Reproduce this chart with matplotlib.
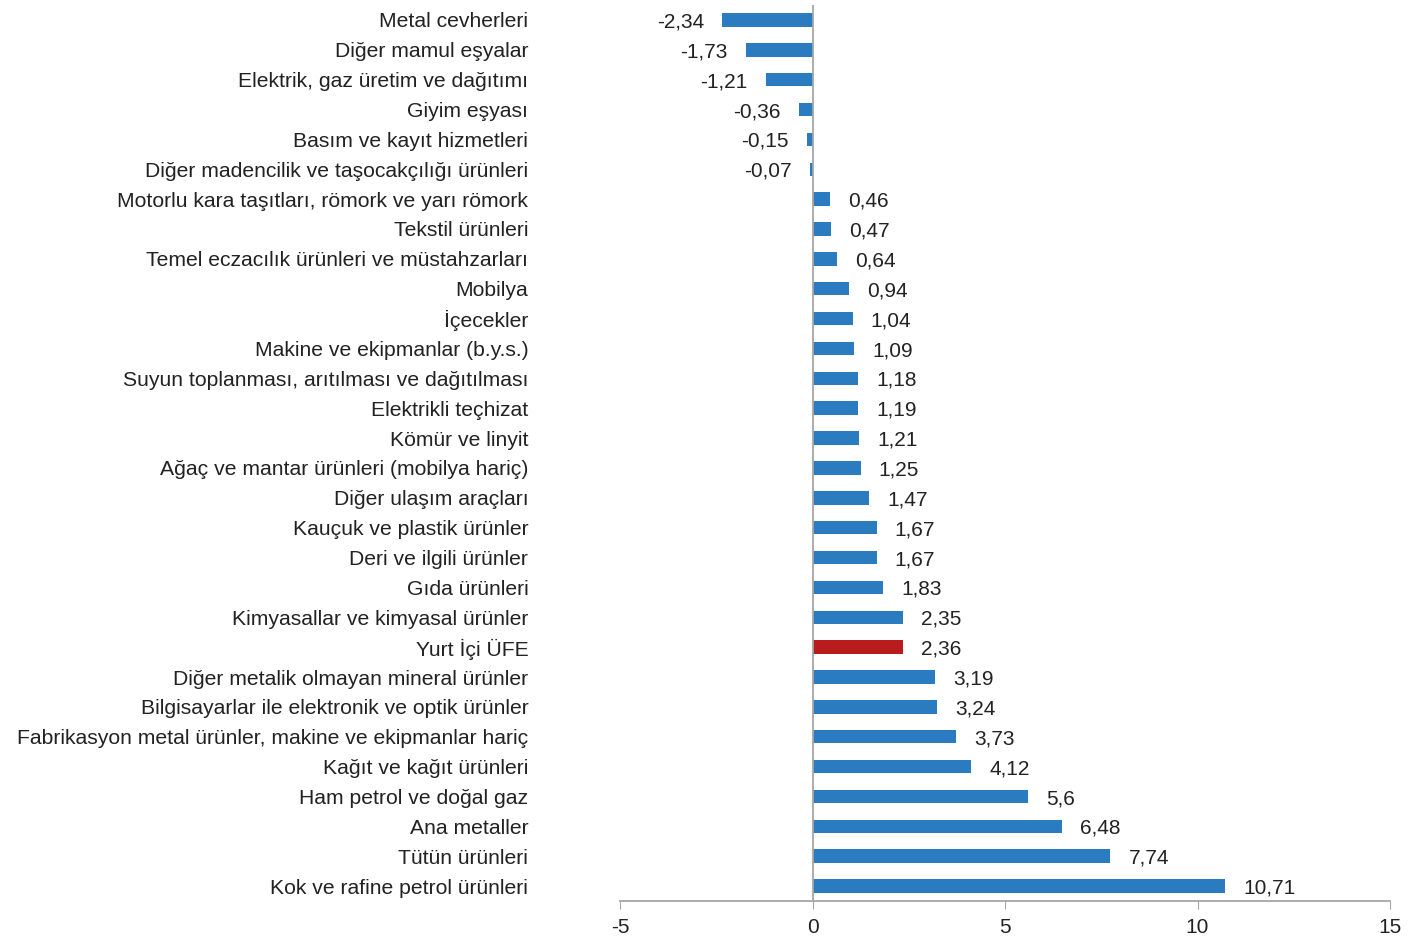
import matplotlib.pyplot as plt

plt.rcParams['font.family'] = ['Liberation Sans', 'DejaVu Sans']

categories = [
    'Metal cevherleri',
    'Diğer mamul eşyalar',
    'Elektrik, gaz üretim ve dağıtımı',
    'Giyim eşyası',
    'Basım ve kayıt hizmetleri',
    'Diğer madencilik ve taşocakçılığı ürünleri',
    'Motorlu kara taşıtları, römork ve yarı römork',
    'Tekstil ürünleri',
    'Temel eczacılık ürünleri ve müstahzarları',
    'Mobilya',
    'İçecekler',
    'Makine ve ekipmanlar (b.y.s.)',
    'Suyun toplanması, arıtılması ve dağıtılması',
    'Elektrikli teçhizat',
    'Kömür ve linyit',
    'Ağaç ve mantar ürünleri (mobilya hariç)',
    'Diğer ulaşım araçları',
    'Kauçuk ve plastik ürünler',
    'Deri ve ilgili ürünler',
    'Gıda ürünleri',
    'Kimyasallar ve kimyasal ürünler',
    'Yurt İçi ÜFE',
    'Diğer metalik olmayan mineral ürünler',
    'Bilgisayarlar ile elektronik ve optik ürünler',
    'Fabrikasyon metal ürünler, makine ve ekipmanlar hariç',
    'Kağıt ve kağıt ürünleri',
    'Ham petrol ve doğal gaz',
    'Ana metaller',
    'Tütün ürünleri',
    'Kok ve rafine petrol ürünleri',
]
values = [-2.34, -1.73, -1.21, -0.36, -0.15, -0.07, 0.46, 0.47, 0.64, 0.94,
          1.04, 1.09, 1.18, 1.19, 1.21, 1.25, 1.47, 1.67, 1.67, 1.83,
          2.35, 2.36, 3.19, 3.24, 3.73, 4.12, 5.6, 6.48, 7.74, 10.71]
highlight = 'Yurt İçi ÜFE'
x_ticks = [-5, 0, 5, 10, 15]

blue = '#2a7bc0'
red = '#b81c1c'

fig = plt.figure(figsize=(14.2, 9.41), dpi=100)
ax = fig.add_axes([620 / 1420, 1 - 901 / 941, 770 / 1420, 896 / 941])

y = list(range(len(categories)))
colors = [red if c == highlight else blue for c in categories]
ax.barh(y, values, height=0.45, color=colors, zorder=2)
ax.axvline(0, color='#a6a6a6', linewidth=1.3, zorder=3)

# value labels, comma as decimal separator
for yi, v in zip(y, values):
    txt = f'{v:g}'.replace('.', ',')
    if v < 0:
        ax.annotate(txt, (v, yi), xytext=(-13, -1.5), textcoords='offset points',
                    ha='right', va='center', fontsize=15, color='#222222')
    else:
        ax.annotate(txt, (v, yi), xytext=(13, -1.5), textcoords='offset points',
                    ha='left', va='center', fontsize=15, color='#222222')

ax.set_xlim(-5, 15)
ax.set_ylim(len(categories) - 0.5, -0.5)
ax.set_xticks(x_ticks)
ax.set_xticklabels([str(t) for t in x_ticks], fontsize=15, color='#222222')
ax.set_yticks(y)
ax.set_yticklabels(categories, fontsize=15.2, color='#222222')
ax.tick_params(axis='y', length=0, pad=66)
ax.tick_params(axis='x', direction='out', length=6, color='#a6a6a6', pad=6)

for side in ['top', 'right', 'left']:
    ax.spines[side].set_visible(False)
ax.spines['bottom'].set_color('#a6a6a6')
ax.spines['bottom'].set_linewidth(1.3)

fig.savefig('out.png', dpi=100)
